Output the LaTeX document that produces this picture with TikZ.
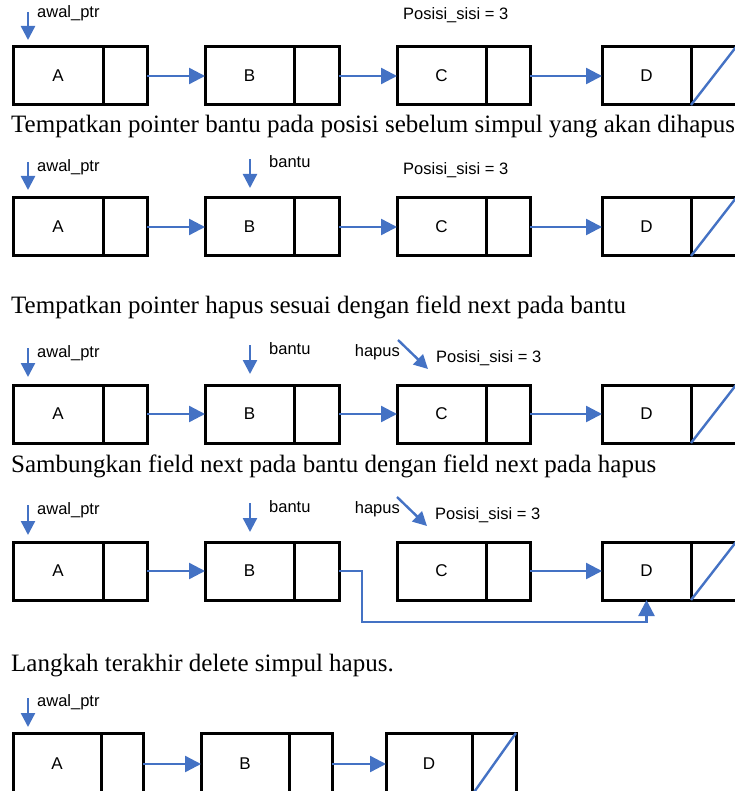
\documentclass[tikz,border=0pt]{standalone}
\usepackage{fontspec}
\setmainfont{Liberation Serif}
\setsansfont{Liberation Sans}
\usetikzlibrary{arrows.meta}
\definecolor{linkblue}{RGB}{68,114,196}

% one list element: data cell plus pointer cell
% #1 name, #2 x, #3 y (top), #4 data width, #5 pointer width, #6 letter
\newcommand\listelem[6]{%
  \node[datacell, minimum width=#4pt] (#1) at (#2,#3) {#6};
  \node[ptrcell, minimum width=#5pt] (#1p) at (#1.north east) {};
}

\begin{document}
\begin{tikzpicture}[x=1pt, y=-1pt,
  cellbase/.style={draw=black, line width=3pt, rectangle, outer sep=0pt,
    inner sep=0pt, anchor=north west, minimum height=58pt},
  datacell/.style={cellbase, font=\sffamily\fontsize{17}{17}\selectfont},
  ptrcell/.style={cellbase},
  link/.style={draw=linkblue, line width=2.4pt,
    -{Triangle[length=16pt, width=16pt]}},
  ptr/.style={draw=linkblue, line width=2.4pt,
    -{Triangle[length=14pt, width=14pt]}},
  nullline/.style={draw=linkblue, line width=2.4pt},
  lbl/.style={anchor=base west, inner sep=0pt,
    font=\sffamily\fontsize{16.5}{16.5}\selectfont},
  caption/.style={anchor=base west, inner sep=0pt,
    font=\fontsize{25}{25}\selectfont},
]
\useasboundingbox (0,0) rectangle (734,791);

% ---------- step 0: the list ----------
\listelem{a1}{13}{47}{90}{44}{A}
\listelem{b1}{205}{47}{89}{45}{B}
\listelem{c1}{397}{47}{89}{44}{C}
\listelem{d1}{602}{47}{89}{45}{D}
\draw[link] (a1p.east) -- (b1.west);
\draw[link] (b1p.east) -- (c1.west);
\draw[link] (c1p.east) -- (d1.west);
\draw[nullline] (d1p.south west) -- (d1p.north east);
\coordinate (pa1) at (28,12);
\draw[ptr] (pa1) -- ++(0,28);
\node[lbl] (la1) at (37,18) {awal\_ptr};
\node[lbl] (ls1) at (403,20) {Posisi\_sisi = 3};

\node[caption] (t1) at (11,133) {Tempatkan pointer bantu pada posisi sebelum simpul yang akan dihapus};

% ---------- step 1: bantu ----------
\listelem{a2}{13}{198}{90}{44}{A}
\listelem{b2}{205}{198}{89}{45}{B}
\listelem{c2}{397}{198}{89}{44}{C}
\listelem{d2}{602}{198}{89}{45}{D}
\draw[link] (a2p.east) -- (b2.west);
\draw[link] (b2p.east) -- (c2.west);
\draw[link] (c2p.east) -- (d2.west);
\draw[nullline] (d2p.south west) -- (d2p.north east);
\coordinate (pa2) at (28,162);
\draw[ptr] (pa2) -- ++(0,28);
\node[lbl] (la2) at (37,172) {awal\_ptr};
\coordinate (pb2) at (250,159);
\draw[ptr] (pb2) -- ++(0,29);
\node[lbl] (lb2) at (269,168) {bantu};
\node[lbl] (ls2) at (403,175) {Posisi\_sisi = 3};

\node[caption] (t2) at (11,313) {Tempatkan pointer hapus sesuai dengan field next pada bantu};

% ---------- step 2: hapus ----------
\listelem{a3}{13}{385}{90}{44}{A}
\listelem{b3}{205}{385}{89}{45}{B}
\listelem{c3}{397}{385}{89}{44}{C}
\listelem{d3}{602}{385}{89}{45}{D}
\draw[link] (a3p.east) -- (b3.west);
\draw[link] (b3p.east) -- (c3.west);
\draw[link] (c3p.east) -- (d3.west);
\draw[nullline] (d3p.south west) -- (d3p.north east);
\coordinate (pa3) at (28,348);
\draw[ptr] (pa3) -- ++(0,29);
\node[lbl] (la3) at (37,357) {awal\_ptr};
\coordinate (pb3) at (250,345);
\draw[ptr] (pb3) -- ++(0,29);
\node[lbl] (lb3) at (269,354) {bantu};
\node[lbl, anchor=base east] (lh3) at (400,356) {hapus};
\coordinate (ph3) at (398,340);
\draw[ptr] (ph3) -- ++(30,29);
\node[lbl] (ls3) at (436,362) {Posisi\_sisi = 3};

\node[caption] (t3) at (11,472) {Sambungkan field next pada bantu dengan field next pada hapus};

% ---------- step 3: relink ----------
\listelem{a4}{13}{542}{90}{44}{A}
\listelem{b4}{205}{542}{89}{45}{B}
\listelem{c4}{397}{542}{89}{44}{C}
\listelem{d4}{602}{542}{89}{45}{D}
\draw[link] (a4p.east) -- (b4.west);
\draw[link] (c4p.east) -- (d4.west);
\coordinate (bend4) at (362,622);
\draw[link] (b4p.east) -| (bend4) -| (d4.south);
\draw[nullline] (d4p.south west) -- (d4p.north east);
\coordinate (pa4) at (28,505);
\draw[ptr] (pa4) -- ++(0,30);
\node[lbl] (la4) at (37,514) {awal\_ptr};
\coordinate (pb4) at (250,503);
\draw[ptr] (pb4) -- ++(0,29);
\node[lbl] (lb4) at (269,512) {bantu};
\node[lbl, anchor=base east] (lh4) at (400,513) {hapus};
\coordinate (ph4) at (397,497);
\draw[ptr] (ph4) -- ++(30,29);
\node[lbl] (ls4) at (435,519) {Posisi\_sisi = 3};

\node[caption] (t4) at (11,671) {Langkah terakhir delete simpul hapus.};

% ---------- step 4: result (cells run past the lower edge) ----------
\begin{scope}[cellbase/.append style={minimum height=62pt}]
\listelem{a5}{13}{733}{88}{42}{A}
\listelem{b5}{201}{733}{88}{43}{B}
\listelem{d5}{386}{733}{86}{44}{D}
\end{scope}
\draw[link] (a5p.east) -- (b5.west);
\draw[link] (b5p.east) -- (d5.west);
\draw[nullline] (d5p.south west) -- (d5p.north east);
\coordinate (pa5) at (28,698);
\draw[ptr] (pa5) -- ++(0,29);
\node[lbl] (la5) at (37,706) {awal\_ptr};
\end{tikzpicture}
\end{document}
